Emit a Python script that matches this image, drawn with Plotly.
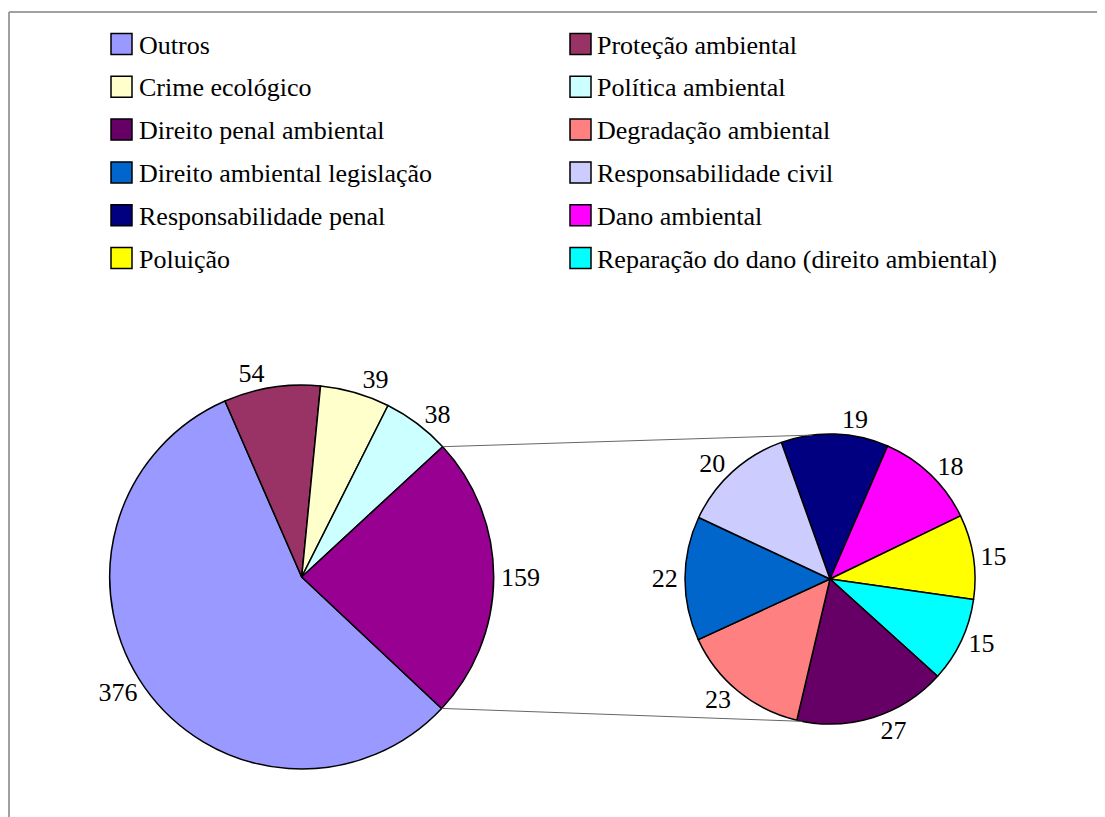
import math
import plotly.graph_objects as go

# ---- data ----
main_labels = ["Outros", "Proteção ambiental", "Crime ecológico", "Política ambiental", "Outros (detalhe)"]
main_values = [376, 54, 39, 38, 159]
main_colors = ["#9999FF", "#993366", "#FFFFCC", "#CCFFFF", "#970090"]

sec_labels = ["Responsabilidade penal", "Dano ambiental", "Poluição",
              "Reparação do dano (direito ambiental)", "Direito penal ambiental",
              "Degradação ambiental", "Direito ambiental legislação", "Responsabilidade civil"]
sec_values = [19, 18, 15, 15, 27, 23, 22, 20]
sec_colors = ["#000080", "#FF00FF", "#FFFF00", "#00FFFF", "#660066",
              "#FF8080", "#0066CC", "#CCCCFF"]

legend_col1 = ["Outros", "Crime ecológico", "Direito penal ambiental",
               "Direito ambiental legislação", "Responsabilidade penal", "Poluição"]
legend_col2 = ["Proteção ambiental", "Política ambiental", "Degradação ambiental",
               "Responsabilidade civil", "Dano ambiental", "Reparação do dano (direito ambiental)"]

W, H = 1105, 817
OFF = 8.0  # page body margin
FONT = "'Times New Roman', 'Liberation Serif', Tinos, 'DejaVu Serif', serif"


def px(x):
    return (x - OFF) / W


def py(y):
    return 1 - (y - OFF) / H


color_of = dict(zip(main_labels, main_colors))
color_of.update(dict(zip(sec_labels, sec_colors)))

# geometry (screen pixels)
mc = (301.7, 577.0)
mr = 192.0
sc = (830.0, 579.0)
sr = 145.0

main_rot = 133.2
sec_rot = -19.6

fig = go.Figure()
fig.add_trace(go.Pie(
    labels=main_labels, values=main_values, sort=False, direction="clockwise",
    rotation=main_rot,
    marker=dict(colors=main_colors, line=dict(color="black", width=1.5)),
    textinfo="value", textposition="outside",
    textfont=dict(family=FONT, size=26, color="black"),
    domain=dict(x=[px(mc[0] - mr), px(mc[0] + mr)], y=[py(mc[1] + mr), py(mc[1] - mr)]),
    showlegend=False, hoverinfo="skip",
))
fig.add_trace(go.Pie(
    labels=sec_labels, values=sec_values, sort=False, direction="clockwise",
    rotation=sec_rot,
    marker=dict(colors=sec_colors, line=dict(color="black", width=1.5)),
    textinfo="value", textposition="outside",
    textfont=dict(family=FONT, size=26, color="black"),
    domain=dict(x=[px(sc[0] - sr), px(sc[0] + sr)], y=[py(sc[1] + sr), py(sc[1] - sr)]),
    showlegend=False, hoverinfo="skip",
))

shapes = []
annotations = []

# connector lines from the "other" slice edges to the secondary pie
tot = sum(main_values)
a_end = main_rot + 360 * sum(main_values[:4]) / tot  # start of "other" slice
a_start = main_rot  # end of "other" slice
for am, asec in [(a_end, -7.0), (a_start + 360, 191.0)]:
    r1 = math.radians(am)
    r2 = math.radians(asec)
    x0 = mc[0] + mr * math.sin(r1)
    y0 = mc[1] - mr * math.cos(r1)
    x1 = sc[0] + sr * math.sin(r2)
    y1 = sc[1] - sr * math.cos(r2)
    shapes.append(dict(type="line", xref="paper", yref="paper",
                       x0=px(x0), y0=py(y0), x1=px(x1), y1=py(y1),
                       line=dict(color="#666666", width=1)))

# manual legend
row0, step = 44.0, 42.8
for col, (bx, tx) in zip([legend_col1, legend_col2], [(111, 137), (570, 595)]):
    for i, name in enumerate(col):
        yc = row0 + i * step
        shapes.append(dict(type="rect", xref="paper", yref="paper",
                           x0=px(bx), x1=px(bx + 21), y0=py(yc - 10.5), y1=py(yc + 10.5),
                           fillcolor=color_of[name], line=dict(color="black", width=1.5)))
        annotations.append(dict(text=name, xref="paper", yref="paper", x=px(tx), y=py(yc + 1),
                                xanchor="left", yanchor="middle", showarrow=False,
                                font=dict(family=FONT, size=26, color="black")))

# frame (top and left visible)
shapes.append(dict(type="line", xref="paper", yref="paper", x0=px(9), y0=py(12), x1=1.05, y1=py(12),
                   line=dict(color="#A0A0A0", width=2)))
shapes.append(dict(type="line", xref="paper", yref="paper", x0=px(9), y0=py(12), x1=px(9), y1=-0.05,
                   line=dict(color="#A0A0A0", width=2)))

fig.update_layout(
    width=W, height=H, margin=dict(l=0, r=0, t=0, b=0),
    paper_bgcolor="white", plot_bgcolor="white",
    shapes=shapes, annotations=annotations,
    font=dict(family=FONT),
)

fig.write_html("out.html")
